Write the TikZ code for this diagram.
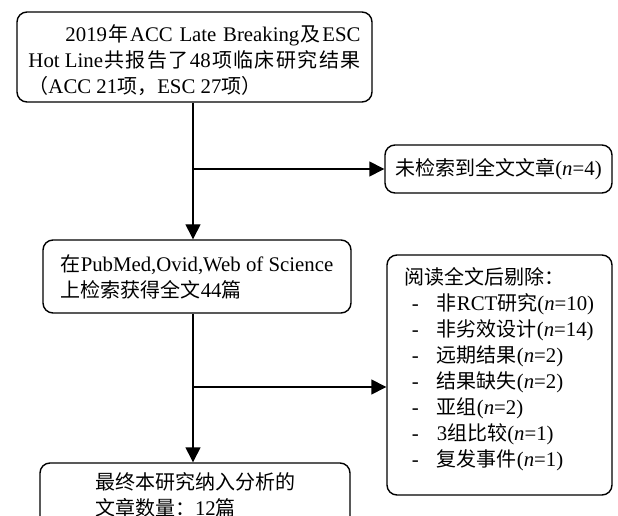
\documentclass[tikz,border=0pt]{standalone}
\usepackage{fontspec}
\setmainfont{Liberation Serif}[Scale=1.04]
\newfontfamily\zhfont{Noto Sans CJK SC}
\newcommand{\zh}[1]{{\zhfont #1}}
% stretchable space for the justified lines
\newcommand{\gap}{\hspace{0pt plus 1fil}}
\usetikzlibrary{arrows.meta}

\tikzset{
  box/.style={draw,line width=1.4bp,rounded corners=10bp,align=left,inner sep=0pt,
    font=\fontsize{20bp}{26bp}\selectfont},
  flow/.style={-{Triangle[length=15bp,width=15bp]},line width=1.4bp}
}

\begin{document}
\begin{tikzpicture}[x=1bp,y=-1bp]
\clip (0,0) rectangle (618,516);

\node (top) at (194.5,57)[box,minimum width=355bp,minimum height=90bp] {\rule{0pt}{24bp}\hspace*{37bp}\makebox[295bp][s]{2019\gap\zh{年}\gap ACC\gap{} Late\gap{} Breaking\gap\zh{及}\gap ESC}\\\makebox[332bp][s]{Hot Line\gap\zh{共}\gap\zh{报}\gap\zh{告}\gap\zh{了}\gap 48\gap\zh{项}\gap\zh{临}\gap\zh{床}\gap\zh{研}\gap\zh{究}\gap\zh{结}\gap\zh{果}}\\\zh{（}ACC 21\zh{项，}ESC 27\zh{项）}};
\node (nofull) at (498.5,169)[box,minimum width=227bp,minimum height=48bp] {\zh{未检索到全文文章}(\textit{n}=4)};
\node (search) at (197,276.5)[box,minimum width=308bp,minimum height=73bp] {\zh{在}PubMed,Ovid,Web of Science\\\zh{上检索获得全文}44\zh{篇}};
\node (excl) at (499.5,375)[box,minimum width=225bp,minimum height=240bp] {\zh{阅读全文后剔除：}\\
\hspace*{7bp}\makebox[25bp][l]{-}\zh{非}RCT\zh{研究}(\textit{n}=10)\\
\hspace*{7bp}\makebox[25bp][l]{-}\zh{非劣效设计}(\textit{n}=14)\\
\hspace*{7bp}\makebox[25bp][l]{-}\zh{远期结果}(\textit{n}=2)\\
\hspace*{7bp}\makebox[25bp][l]{-}\zh{结果缺失}(\textit{n}=2)\\
\hspace*{7bp}\makebox[25bp][l]{-}\zh{亚组}(\textit{n}=2)\\
\hspace*{7bp}\makebox[25bp][l]{-}3\zh{组比较}(\textit{n}=1)\\
\hspace*{7bp}\makebox[25bp][l]{-}\zh{复发事件}(\textit{n}=1)\rule[-17bp]{0pt}{0pt}};
\node (final) at (195,495)[box,minimum width=310bp,minimum height=64bp] {\zh{最终本研究纳入分析的}\\\zh{文章数量：}12\zh{篇}};

% branch points on the main line
\coordinate (j1) at (193,169);
\coordinate (j2) at (193,387);

\draw [flow] (top.south -| j1) to (search.north -| j1);
\draw [flow] (search.south -| j1) to (final.north -| j1);
\draw [flow] (j1) to (nofull);
\draw [flow] (j2) to (j2 -| excl.west);
\end{tikzpicture}
\end{document}
